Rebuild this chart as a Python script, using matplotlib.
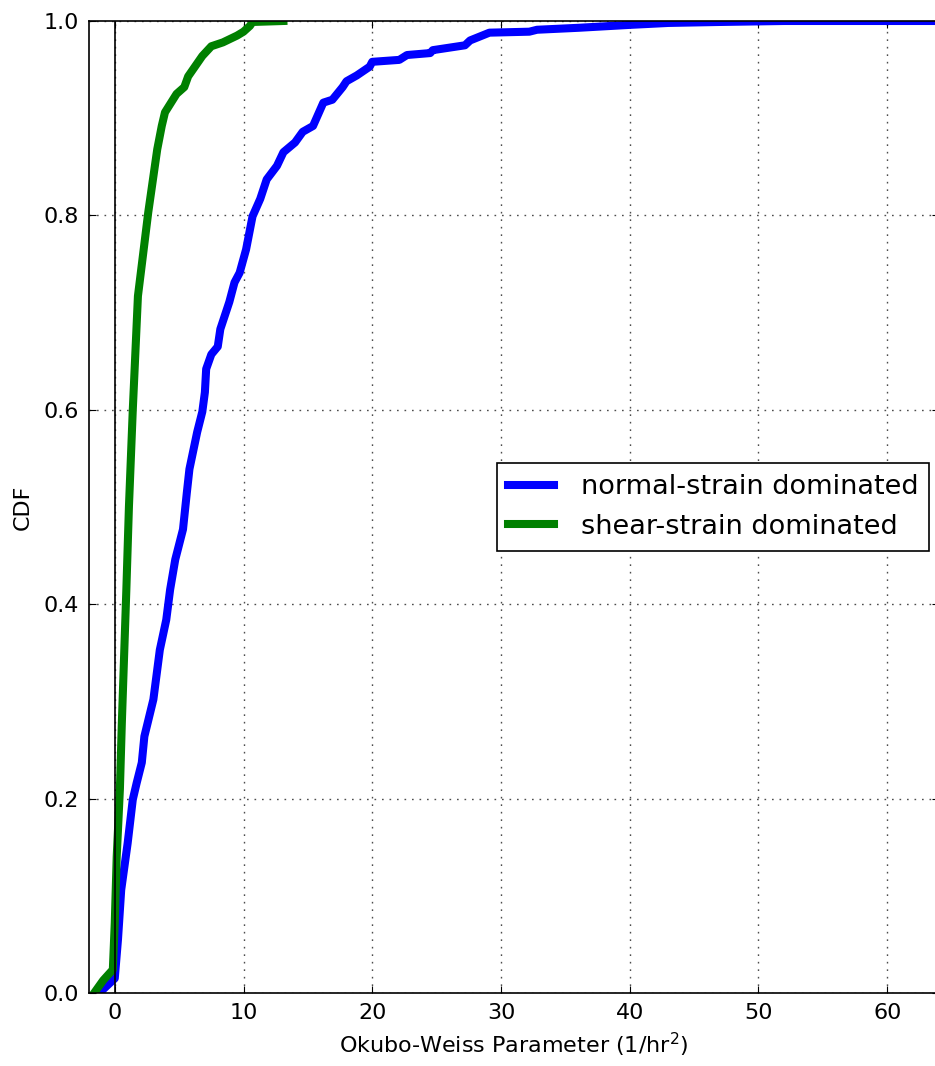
import numpy as np
import matplotlib
matplotlib.use('Agg')
import matplotlib.pyplot as plt

# Okubo-Weiss parameter (1/hr^2) vs cumulative fraction, by strain regime
normal_ow = [-1.2, -0.4, 0.0, 0.25, 0.5, 1.0, 1.4, 1.7, 2.1, 2.3, 3.0, 3.5, 4.0,
             4.3, 4.7, 5.3, 5.6, 5.8, 6.4, 6.8, 7.0, 7.1, 7.5, 8.0, 8.2, 8.9,
             9.3, 9.7, 10.2, 10.7, 11.3, 11.8, 12.6, 13.1, 14.0, 14.6, 15.4,
             16.2, 16.9, 17.7, 18.0, 18.8, 19.8, 20.0, 22.1, 22.7, 24.5, 24.7,
             27.2, 27.6, 29.1, 32.2, 32.8, 36.0, 40.0, 43.0, 47.0, 52.0, 66.0]
normal_cdf = [0.0, 0.01, 0.015, 0.055, 0.106, 0.154, 0.199, 0.216, 0.237, 0.264,
              0.302, 0.353, 0.384, 0.415, 0.446, 0.477, 0.515, 0.539, 0.577,
              0.598, 0.618, 0.642, 0.657, 0.665, 0.683, 0.711, 0.731, 0.741,
              0.765, 0.799, 0.817, 0.837, 0.851, 0.865, 0.875, 0.886, 0.892,
              0.916, 0.919, 0.932, 0.938, 0.944, 0.953, 0.958, 0.960, 0.965,
              0.967, 0.970, 0.975, 0.980, 0.988, 0.989, 0.991, 0.993, 0.996,
              0.998, 0.999, 1.0, 1.0]

shear_ow = [-1.6, -0.9, -0.15, 0.0, 0.15, 0.4, 0.55, 0.9, 1.1, 1.4, 1.8, 2.2,
            2.6, 3.3, 3.65, 3.9, 4.8, 5.4, 5.7, 6.8, 7.5, 8.4, 9.5, 10.0, 10.5,
            10.7, 13.1]
shear_cdf = [0.0, 0.013, 0.024, 0.072, 0.14, 0.21, 0.278, 0.415, 0.50, 0.60,
             0.717, 0.76, 0.803, 0.868, 0.892, 0.906, 0.925, 0.932, 0.943,
             0.964, 0.974, 0.978, 0.985, 0.989, 0.995, 0.999, 1.0]

plt.rcParams['font.family'] = ['DejaVu Sans']

fig = plt.figure(figsize=(9.35, 10.66), dpi=100)
ax = fig.add_axes([0.0952, 0.0685, 0.9088, 0.9118])

ax.plot(normal_ow, normal_cdf, color='#0000ff', lw=5.8, label='normal-strain dominated')
ax.plot(shear_ow, shear_cdf, color='#008000', lw=5.8, label='shear-strain dominated')
ax.axvline(0, color='k', lw=1.2)

ax.set_xlim(-2, 64)
ax.set_ylim(0, 1)
ax.set_xticks(np.arange(0, 61, 10))
ax.set_yticks(np.arange(0, 1.01, 0.2))
ax.tick_params(direction='in', top=True, right=True, length=5, labelsize=16, pad=7)
ax.grid(True, color='0.3', linestyle=(0, (1.2, 4.2)), lw=1.0)
for s in ax.spines.values():
    s.set_linewidth(1.2)

ax.set_xlabel('Okubo-Weiss Parameter (1/hr$^2$)', fontsize=16, labelpad=6)
ax.set_ylabel('CDF', fontsize=16, labelpad=8)

leg = ax.legend(loc='center right', fontsize=19.5, fancybox=False, framealpha=1,
                edgecolor='k', handlelength=1.7, handletextpad=1.0,
                borderaxespad=0.35)
leg.get_frame().set_linewidth(1.2)

fig.savefig('out.png', dpi=100)
